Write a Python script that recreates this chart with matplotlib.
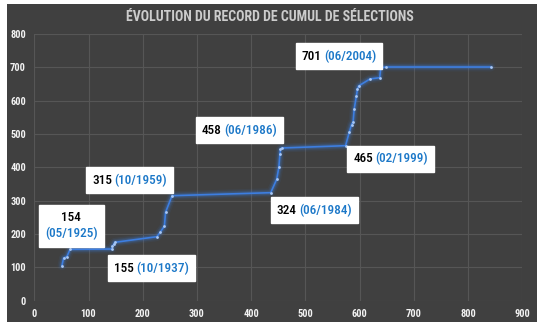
import matplotlib
matplotlib.use("Agg")
import matplotlib.pyplot as plt
from matplotlib.patches import Rectangle
from matplotlib.offsetbox import TextArea, HPacker, VPacker, AnnotationBbox
from matplotlib import font_manager

# ---- data ----
sel_x = [51, 54, 60, 66, 143, 144, 147, 148, 226, 232, 240, 242, 254,
         436, 447, 451, 453, 454, 456, 574, 581, 585, 588, 590, 594,
         596, 598, 619, 637, 639, 649, 842]
sel_y = [105, 128, 132, 154, 155, 164, 170, 175, 192, 205, 224, 265, 315,
         324, 364, 400, 440, 454, 458, 465, 506, 528, 537, 575, 614,
         635, 644, 665, 669, 699, 701, 701]

label_nums = ["154", "155", "315", "324", "458", "465", "701"]
label_dates = ["(05/1925)", "(10/1937)", "(10/1959)", "(06/1984)",
               "(06/1986)", "(02/1999)", "(06/2004)"]
label_x = [68, 216, 176, 516, 378, 657, 562]
label_y = [224, 98, 362, 272, 512, 426, 733]
label_two_lines = [True, False, False, False, False, False, False]

title = "ÉVOLUTION DU RECORD DE CUMUL DE SÉLECTIONS"
x_ticks = [0, 100, 200, 300, 400, 500, 600, 700, 800, 900]
y_ticks = [0, 100, 200, 300, 400, 500, 600, 700, 800]

# ---- style ----
avail = {f.name for f in font_manager.fontManager.ttflist}
fam = None
for cand in ["Liberation Sans Narrow", "Roboto Condensed", "Open Sans Condensed"]:
    if cand in avail:
        fam = cand
        break
if fam is None:
    fam = "DejaVu Sans"
    plt.rcParams['font.stretch'] = 'condensed'
plt.rcParams['font.family'] = [fam, 'DejaVu Sans']

BG = "#404040"
GRID = "#565656"
LINE = "#3d7ee0"
BLUE_TXT = "#1c78c8"

W, H = 540, 328
fig = plt.figure(figsize=(W / 100, H / 100), dpi=100, facecolor="white")
fig.patches.append(Rectangle((7 / W, 6 / H), (537 - 7) / W, (324 - 6) / H,
                             transform=fig.transFigure, facecolor=BG,
                             edgecolor="none", zorder=-10))

ax = fig.add_axes([34.3 / W, 1 - 300.7 / H, (522.3 - 34.3) / W, (300.7 - 34) / H])
ax.set_facecolor(BG)
ax.set_xlim(0, 900)
ax.set_ylim(0, 800)
ax.set_xticks(x_ticks)
ax.set_yticks(y_ticks)
ax.grid(True, color=GRID, linewidth=0.8)
ax.set_axisbelow(True)
for s in ax.spines.values():
    s.set_visible(False)
ax.tick_params(length=0, colors="white", labelsize=7.5, pad=6)
for lab in ax.get_xticklabels() + ax.get_yticklabels():
    lab.set_fontweight("bold")
    lab.set_color("#f2f2f2")

# glow
for lw, a in [(6.5, 0.07), (4.5, 0.12), (3.0, 0.2)]:
    ax.plot(sel_x, sel_y, color=LINE, linewidth=lw, alpha=a,
            solid_capstyle="round", solid_joinstyle="round")
ax.plot(sel_x, sel_y, color=LINE, linewidth=1.2)
ax.plot(sel_x, sel_y, linestyle="none", marker="o", markersize=2,
        markerfacecolor="#a9c8f5", markeredgecolor="none")

fig.text(0.5, 1 - 17 / H, title, ha="center", va="center", color="#cccccc",
         fontsize=10, fontweight="bold")

for num, date, lx, ly, two in zip(label_nums, label_dates, label_x, label_y,
                                  label_two_lines):
    tnum = TextArea(num, textprops=dict(color="black", fontsize=9.5,
                                        fontweight="medium"))
    tdate = TextArea(date, textprops=dict(color=BLUE_TXT, fontsize=9.5,
                                          fontweight="medium"))
    if two:
        box = VPacker(children=[tnum, tdate], align="center", pad=0, sep=2)
    else:
        box = HPacker(children=[tnum, tdate], align="baseline", pad=0, sep=1.5)
    ab = AnnotationBbox(box, (lx, ly), xycoords="data", frameon=True,
                        pad=0.45, box_alignment=(0.5, 0.5))
    ab.patch.set_facecolor("white")
    ab.patch.set_edgecolor("white")
    ab.patch.set_boxstyle("square", pad=0.45)
    ax.add_artist(ab)

fig.savefig("out.png", dpi=100, facecolor="white")
